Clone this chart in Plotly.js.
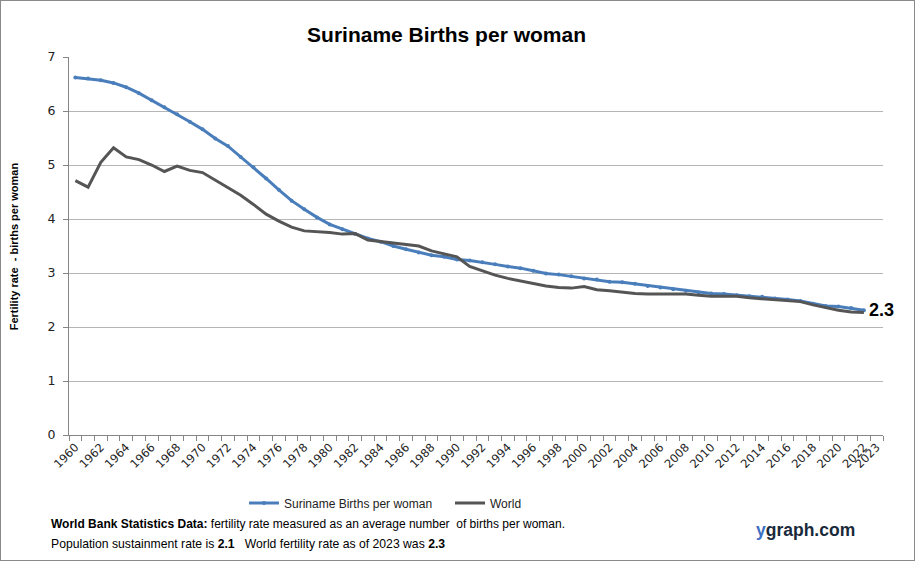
<!DOCTYPE html>
<html>
<head>
<meta charset="utf-8">
<script src="https://cdn.plot.ly/plotly-3.0.1.min.js"></script>
<style>
html,body{margin:0;padding:0;background:#fff;}
#chart{width:913px;height:559px;border:1px solid #8a8a8a;}
</style>
</head>
<body>
<div id="chart"></div>
<script>
var years = [1960,1961,1962,1963,1964,1965,1966,1967,1968,1969,
             1970,1971,1972,1973,1974,1975,1976,1977,1978,1979,
             1980,1981,1982,1983,1984,1985,1986,1987,1988,1989,
             1990,1991,1992,1993,1994,1995,1996,1997,1998,1999,
             2000,2001,2002,2003,2004,2005,2006,2007,2008,2009,
             2010,2011,2012,2013,2014,2015,2016,2017,2018,2019,
             2020,2021,2022];
var suriname = [6.62,6.60,6.57,6.52,6.44,6.33,6.20,6.07,5.94,5.80,
                5.66,5.49,5.35,5.15,4.96,4.75,4.54,4.34,4.18,4.03,
                3.90,3.81,3.72,3.64,3.58,3.50,3.44,3.38,3.33,3.30,
                3.25,3.23,3.20,3.16,3.12,3.09,3.04,2.99,2.97,2.94,
                2.90,2.88,2.84,2.83,2.80,2.76,2.73,2.70,2.67,2.64,
                2.62,2.61,2.59,2.57,2.56,2.53,2.51,2.48,2.43,2.39,
                2.38,2.35,2.31];
var world = [4.71,4.59,5.05,5.32,5.15,5.10,5.00,4.88,4.98,4.90,
             4.86,4.72,4.58,4.44,4.27,4.09,3.96,3.85,3.78,3.77,
             3.75,3.72,3.73,3.61,3.58,3.55,3.53,3.50,3.41,3.36,
             3.30,3.12,3.04,2.96,2.90,2.85,2.81,2.76,2.73,2.72,
             2.75,2.69,2.67,2.64,2.62,2.61,2.61,2.61,2.61,2.59,
             2.57,2.57,2.57,2.54,2.52,2.50,2.49,2.47,2.41,2.36,
             2.31,2.28,2.27];
var tickYears = [1960,1962,1964,1966,1968,1970,1972,1974,1976,1978,1980,1982,1984,1986,1988,1990,
                 1992,1994,1996,1998,2000,2002,2004,2006,2008,2010,2012,2014,2016,2018,2020,2022,2023];
var tickLabels = ["1960","1962","1964","1966","1968","1970","1972","1974","1976","1978","1980","1982","1984","1986","1988","1990",
                  "1992","1994","1996","1998","2000","2002","2004","2006","2008","2010","2012","2014","2016","2018","2020","2022","2023"];
var lastLabel = "2.3";

var blue = "#4a7ebb";
var grey = "#555555";

var traces = [
  {x: years, y: suriname, type: "scatter", mode: "lines+markers", name: "Suriname Births per woman",
   line: {color: blue, width: 3}, marker: {color: blue, size: 4}},
  {x: years, y: world, type: "scatter", mode: "lines", name: "World",
   line: {color: grey, width: 3}}
];

var tf = "DejaVu Sans";
var layout = {
  width: 913, height: 559,
  margin: {l: 68, r: 31, t: 56, b: 125},
  paper_bgcolor: "#fff", plot_bgcolor: "#fff",
  title: {text: "<b>Suriname Births per woman</b>", font: {family: "Liberation Sans", size: 21, color: "#000"},
          x: 0.488, xanchor: "center", y: 0.94, yanchor: "middle"},
  xaxis: {range: [1959.5, 2023.5], tickvals: tickYears, ticktext: tickLabels, tickangle: -45,
          tickfont: {family: tf, size: 11.5, color: "#222"}, ticks: "", showgrid: false, zeroline: false,
          showline: true, linecolor: "#868686", linewidth: 1,
          minor: {tick0: 1959.5, dtick: 1, ticks: "outside", ticklen: 5, tickcolor: "#868686", showgrid: false}},
  yaxis: {range: [0, 7], dtick: 1, tickfont: {family: tf, size: 12.5, color: "#222"}, ticklabelstandoff: 5,
          ticks: "outside", ticklen: 5, tickcolor: "#868686", showgrid: true, gridcolor: "#b5b5b5",
          zeroline: false, showline: true, linecolor: "#868686", linewidth: 1},
  showlegend: true,
  legend: {orientation: "h", x: 0.215, xanchor: "left", y: -0.18, yanchor: "middle", entrywidth: 161,
           font: {family: "Liberation Sans", size: 12, color: "#222"}, itemwidth: 30, tracegroupgap: 0},
  annotations: [
    {text: "<b>Fertility rate  - births per woman</b>", xref: "paper", yref: "paper", x: -0.077, y: 0.5,
     textangle: -90, showarrow: false, font: {family: "Liberation Sans", size: 11, color: "#000"}},
    {text: "<b>" + lastLabel + "</b>", x: years[years.length - 1], y: suriname[suriname.length - 1],
     xref: "x", yref: "y", xanchor: "left", yanchor: "middle", xshift: 3, showarrow: false,
     font: {family: "Liberation Sans", size: 18, color: "#000"}},
    {text: "<b>World Bank Statistics Data:</b> fertility rate measured as an average number  of births per woman.",
     xref: "paper", yref: "paper", x: -0.024, y: -0.235, xanchor: "left", yanchor: "middle", showarrow: false,
     font: {family: "Liberation Sans", size: 12, color: "#000"}},
    {text: "Population sustainment rate is <b>2.1</b>   World fertility rate as of 2023 was <b>2.3</b>",
     xref: "paper", yref: "paper", x: -0.024, y: -0.288, xanchor: "left", yanchor: "middle", showarrow: false,
     font: {family: "Liberation Sans", size: 12.2, color: "#000"}},
    {text: "<b><span style='color:#3a6fc4'>y</span>graph.com</b>",
     xref: "paper", yref: "paper", x: 0.905, y: -0.252, xanchor: "center", yanchor: "middle", showarrow: false,
     font: {family: "Liberation Sans", size: 17.5, color: "#1a2a3a"}}
  ]
};

Plotly.newPlot("chart", traces, layout, {displayModeBar: false, staticPlot: true});
</script>
</body>
</html>
